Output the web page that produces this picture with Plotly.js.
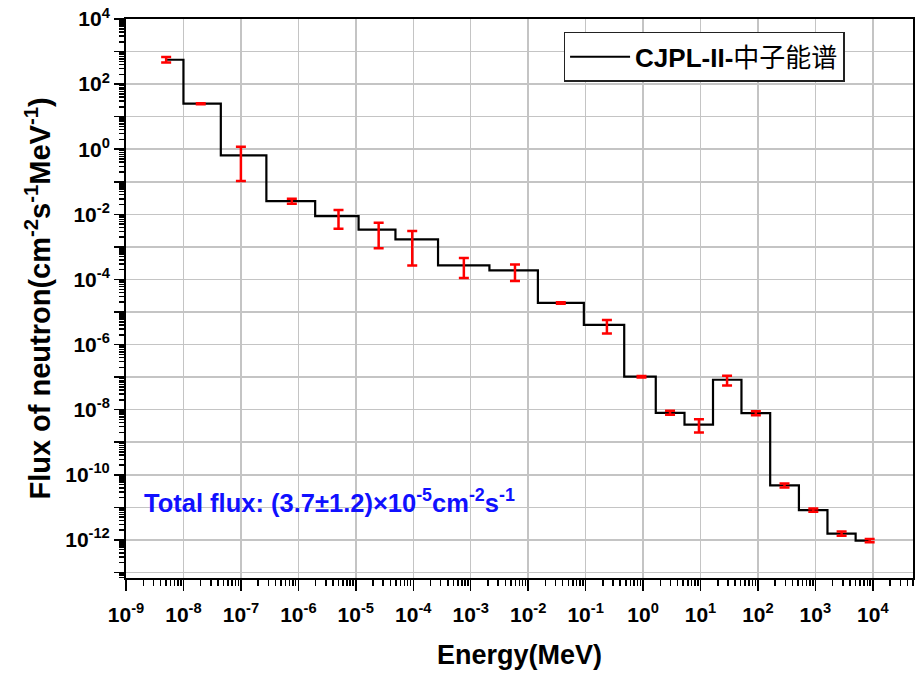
<!DOCTYPE html>
<html>
<head>
<meta charset="utf-8">
<script src="https://cdn.plot.ly/plotly-3.0.1.min.js"></script>
<style>html,body{margin:0;padding:0;background:#fff;}#chart{width:916px;height:673px;}</style>
</head>
<body>
<div id="chart"></div>
<script>
// Energy (MeV) of each group (point positions)
var energy = [5e-9, 2e-8, 1e-7, 7.7e-7, 5e-6, 2.5e-5, 9.6e-5, 7.6e-4, 5.9e-3, 0.037,
              0.235, 0.94, 2.95, 9.4, 29, 92, 290, 920, 2860, 8800];
// Neutron flux (cm^-2 s^-1 MeV^-1)
var flux = [560, 25, 0.65, 0.0255, 8.8e-3, 3.4e-3, 1.7e-3, 2.7e-4, 1.9e-4, 1.9e-5,
            4.0e-6, 1.03e-7, 8.0e-9, 3.5e-9, 8.3e-8, 7.8e-9, 4.7e-11, 8.2e-12, 1.57e-12, 9.5e-13];
// Upper and lower ends of the error bars
var fluxUpper = [680, 26, 1.2, 0.03, 0.0135, 5.5e-3, 3.1e-3, 4.6e-4, 2.9e-4, 2.0e-5,
                 5.7e-6, 1.08e-7, 9.2e-9, 5.1e-9, 1.1e-7, 9.0e-9, 5.4e-11, 9.2e-12, 1.8e-12, 1.07e-12];
var fluxLower = [460, 24, 0.105, 0.021, 3.6e-3, 9.1e-4, 2.7e-4, 1.1e-4, 8.9e-5, 1.8e-5,
                 2.2e-6, 0.98e-7, 7.0e-9, 2.0e-9, 5.5e-8, 6.7e-9, 4.1e-11, 7.3e-12, 1.35e-12, 0.84e-12];

// Tick values and labels
var xTickVals = [1e-9,1e-8,1e-7,1e-6,1e-5,1e-4,1e-3,1e-2,1e-1,1,10,100,1000,10000];
var xTickText = ['10<sup>-9</sup>','10<sup>-8</sup>','10<sup>-7</sup>','10<sup>-6</sup>','10<sup>-5</sup>',
                 '10<sup>-4</sup>','10<sup>-3</sup>','10<sup>-2</sup>','10<sup>-1</sup>','10<sup>0</sup>',
                 '10<sup>1</sup>','10<sup>2</sup>','10<sup>3</sup>','10<sup>4</sup>'];
var yTickVals = [1e-13,1e-12,1e-11,1e-10,1e-9,1e-8,1e-7,1e-6,1e-5,1e-4,1e-3,1e-2,1e-1,1,10,100,1000,10000];
var yTickText = ['','10<sup>-12</sup>','','10<sup>-10</sup>','','10<sup>-8</sup>','','10<sup>-6</sup>','',
                 '10<sup>-4</sup>','','10<sup>-2</sup>','','10<sup>0</sup>','','10<sup>2</sup>','','10<sup>4</sup>'];

var seriesName = '<b>CJPL-II-</b>中子能谱';
var noteText = '<b>Total flux: (3.7±1.2)×10<sup>-5</sup>cm<sup>-2</sup>s<sup>-1</sup></b>';
var xTitle = '<b>Energy(MeV)</b>';
var yTitle = '<b>Flux of neutron(cm<sup>-2</sup>s<sup>-1</sup>MeV<sup>-1</sup>)</b>';

// minor tick positions (2..9 within each decade)
function minorTicks(lo, hi) {
  var out = [];
  for (var e = lo; e <= hi; e++) {
    for (var m = 2; m <= 9; m++) out.push(m * Math.pow(10, e));
  }
  return out;
}

var errPlus = flux.map(function (v, i) { return fluxUpper[i] - v; });
var errMinus = flux.map(function (v, i) { return v - fluxLower[i]; });

var FONT = 'Liberation Sans, Arial, Noto Sans CJK SC, sans-serif';

var traces = [
  {
    x: energy, y: flux, type: 'scatter', mode: 'lines', name: seriesName,
    line: {shape: 'hvh', color: '#000', width: 2.2},
    showlegend: true
  },
  {
    x: energy, y: flux, type: 'scatter', mode: 'markers',
    marker: {size: 1, color: 'rgba(0,0,0,0)'},
    error_y: {type: 'data', symmetric: false, array: errPlus, arrayminus: errMinus,
              color: '#ff0000', thickness: 2.5, width: 5},
    showlegend: false, hoverinfo: 'skip'
  }
];

var axisCommon = {
  type: 'log', showline: true, linecolor: '#000', linewidth: 2, mirror: true,
  showgrid: true, gridcolor: '#c4c4c4', gridwidth: 1.5, zeroline: false,
  ticks: 'outside', tickcolor: '#000', tickwidth: 1.5,
  tickmode: 'array', tickfont: {family: FONT, size: 21, color: '#000', weight: 'bold'}
};

var layout = {
  width: 916, height: 673,
  paper_bgcolor: '#fff', plot_bgcolor: '#fff',
  margin: {l: 126, r: 3, t: 19, b: 95},
  showlegend: true,
  font: {family: FONT, color: '#000'},
  xaxis: Object.assign({}, axisCommon, {
    range: [-9, 4.699], tickvals: xTickVals, ticktext: xTickText, ticklen: 11,
    ticklabelstandoff: 6,
    minor: {ticks: 'outside', ticklen: 6, tickcolor: '#000', tickwidth: 1.5,
            tickmode: 'array', tickvals: minorTicks(-9, 4), showgrid: false},
    title: {text: xTitle, font: {family: FONT, size: 27, color: '#000'}, standoff: 20}
  }),
  yaxis: Object.assign({}, axisCommon, {
    range: [-13.17, 4], tickvals: yTickVals, ticktext: yTickText, ticklen: 10,
    minor: {ticks: 'outside', ticklen: 5, tickcolor: '#000', tickwidth: 1.5,
            tickmode: 'array', tickvals: minorTicks(-14, 3), showgrid: false},
    title: {text: yTitle, font: {family: FONT, size: 29, color: '#000'}, standoff: 6}
  }),
  legend: {
    x: 0.556, y: 0.977, xanchor: 'left', yanchor: 'top',
    bgcolor: '#fff', bordercolor: '#222', borderwidth: 1.5,
    font: {family: FONT, size: 26, color: '#000'}, itemwidth: 60
  },
  annotations: [{
    text: noteText, xref: 'paper', yref: 'paper', x: 0.02, y: 0.138,
    xanchor: 'left', yanchor: 'middle', showarrow: false,
    font: {family: FONT, size: 25.5, color: '#1010ff'}
  }]
};

Plotly.newPlot('chart', traces, layout, {displayModeBar: false, staticPlot: true});
</script>
</body>
</html>
